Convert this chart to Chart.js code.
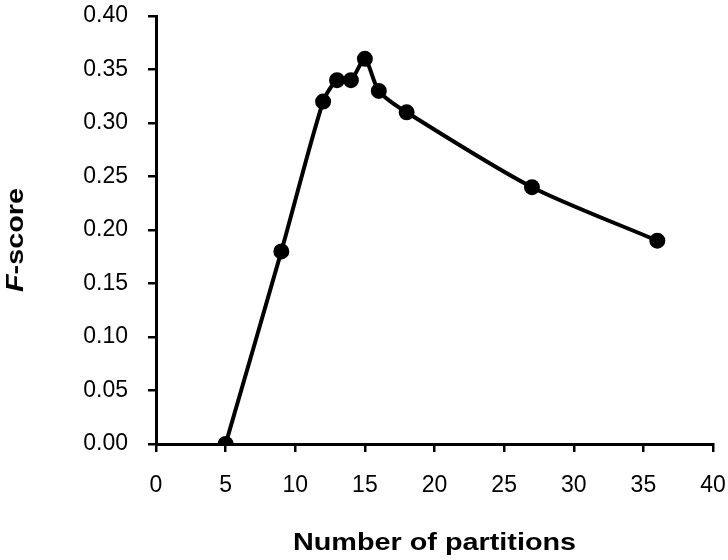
<!DOCTYPE html>
<html>
<head>
<meta charset="utf-8">
<script src="https://cdn.jsdelivr.net/npm/chart.js@4"></script>
<style>
  html, body { margin: 0; padding: 0; background: #fff; }
  #wrap { width: 728px; height: 560px; }
</style>
</head>
<body>
<div id="wrap"><canvas id="fscoreChart"></canvas></div>
<script>
// values
const partitions = [5, 9, 12, 13, 14, 15, 16, 18, 27, 36];
const fScores = [0.00, 0.18, 0.32, 0.34, 0.34, 0.36, 0.33, 0.31, 0.24, 0.19];
const xTicks = [0, 5, 10, 15, 20, 25, 30, 35, 40];
const yTicks = [0, 0.05, 0.10, 0.15, 0.20, 0.25, 0.30, 0.35, 0.40];

const FONT = '"Liberation Sans", Arial, sans-serif';

// axis titles drawn by hand: italic F in the y title, slightly wide lettering
const axisTitles = {
    id: 'axisTitles',
    afterDraw(chart) {
        const ctx = chart.ctx;
        const area = chart.chartArea;
        const stretch = 1.2;
        ctx.save();
        ctx.fillStyle = '#000';
        ctx.textBaseline = 'alphabetic';
        ctx.textAlign = 'left';

        // x title
        ctx.font = 'bold 24px ' + FONT;
        const xt = 'Number of partitions';
        const xw = ctx.measureText(xt).width * stretch;
        ctx.save();
        ctx.translate((area.left + area.right) / 2 - xw / 2, 550);
        ctx.scale(stretch, 1);
        ctx.fillText(xt, 0, 0);
        ctx.restore();

        // y title
        const f1 = 'italic bold 24px ' + FONT;
        const f2 = 'bold 24px ' + FONT;
        ctx.font = f1;
        const w1 = ctx.measureText('F').width;
        ctx.font = f2;
        const w2 = ctx.measureText('-score').width;
        ctx.save();
        ctx.translate(23, 240);
        ctx.rotate(-Math.PI / 2);
        ctx.scale(stretch, 1);
        const x0 = -(w1 + w2) / 2;
        ctx.font = f1;
        ctx.fillText('F', x0, 0);
        ctx.font = f2;
        ctx.fillText('-score', x0 + w1, 0);
        ctx.restore();

        ctx.restore();
    }
};

const ctx = document.getElementById('fscoreChart').getContext('2d');

new Chart(ctx, {
    type: 'line',
    data: {
        datasets: [{
            label: 'F-score',
            data: partitions.map((p, i) => ({ x: p, y: fScores[i] })),
            borderColor: '#000',
            backgroundColor: '#000',
            borderWidth: 4,
            pointRadius: 6,
            pointHoverRadius: 6,
            tension: 0.25,
            fill: false
        }]
    },
    options: {
        responsive: true,
        maintainAspectRatio: false,
        animation: false,
        layout: { padding: { top: 16, right: 15, left: 0, bottom: 0 } },
        plugins: {
            legend: { display: false },
            tooltip: { enabled: false }
        },
        scales: {
            x: {
                type: 'linear',
                min: 0,
                max: 40,
                afterBuildTicks: (s) => { s.ticks = xTicks.map(v => ({ value: v })); },
                afterFit: (s) => { s.height = 116; s.paddingLeft = 0; s.paddingRight = 0; },
                ticks: {
                    color: '#000',
                    font: { family: FONT, size: 23 },
                    padding: 20,
                    maxRotation: 0
                },
                grid: {
                    drawOnChartArea: false,
                    drawTicks: true,
                    tickLength: 8,
                    color: '#000',
                    lineWidth: 2.5
                },
                border: { color: '#000', width: 3 }
            },
            y: {
                min: 0,
                max: 0.4,
                afterBuildTicks: (s) => { s.ticks = yTicks.map(v => ({ value: v })); },
                afterFit: (s) => { s.width = 156; s.paddingTop = 0; s.paddingBottom = 0; },
                ticks: {
                    color: '#000',
                    font: { family: FONT, size: 23 },
                    padding: 20,
                    callback: (v) => Number(v).toFixed(2)
                },
                grid: {
                    drawOnChartArea: false,
                    drawTicks: true,
                    tickLength: 8,
                    color: '#000',
                    lineWidth: 2.5
                },
                border: { color: '#000', width: 3 }
            }
        }
    },
    plugins: [axisTitles]
});
</script>
</body>
</html>
